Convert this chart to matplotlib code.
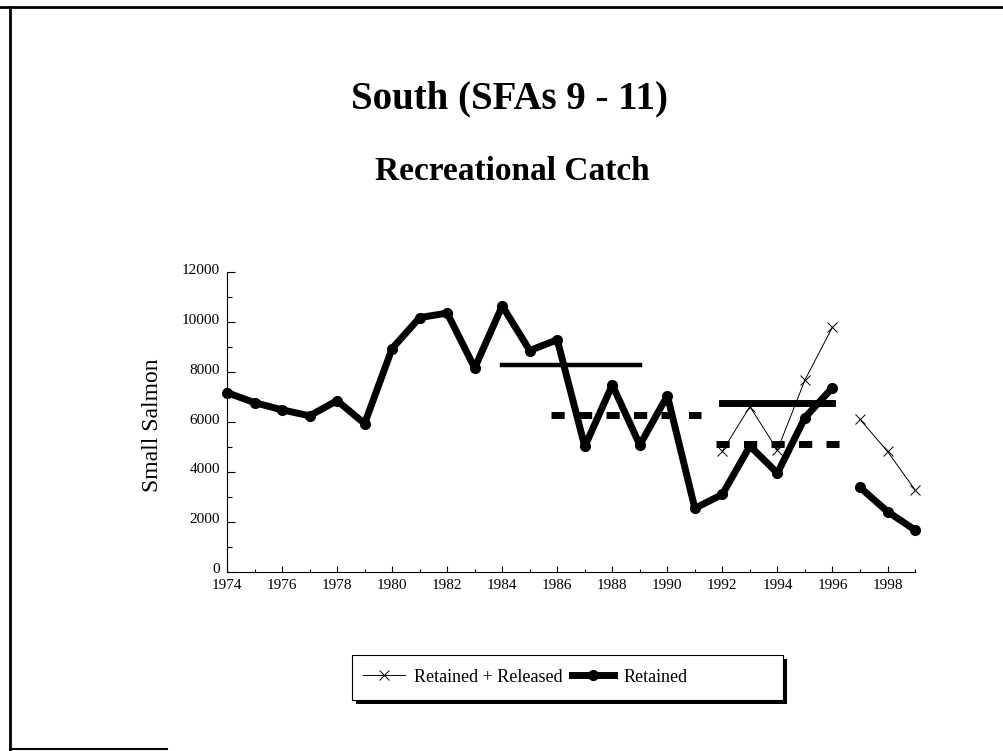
import matplotlib
matplotlib.use('Agg')
import matplotlib.pyplot as plt
from matplotlib.ticker import MultipleLocator
from matplotlib.lines import Line2D
from matplotlib.patches import Rectangle
from matplotlib.transforms import ScaledTranslation

plt.rcParams['font.family'] = ['Liberation Serif', 'DejaVu Serif']
plt.rcParams['lines.scale_dashes'] = False

# Retained (two pieces, gap between 1996 and 1997)
ret_years_a = [1974, 1975, 1976, 1977, 1978, 1979, 1980, 1981, 1982, 1983, 1984, 1985,
               1986, 1987, 1988, 1989, 1990, 1991, 1992, 1993, 1994, 1995, 1996]
ret_vals_a = [7180, 6780, 6490, 6250, 6860, 5940, 8950, 10190, 10370, 8170, 10660, 8870,
              9300, 5020, 7490, 5080, 7060, 2540, 3100, 5040, 3950, 6180, 7380]
ret_years_b = [1997, 1998, 1999]
ret_vals_b = [3380, 2410, 1670]

# Retained + Released
rr_years_a = [1992, 1993, 1994, 1995, 1996]
rr_vals_a = [4840, 6620, 4880, 7690, 9810]
rr_years_b = [1997, 1998, 1999]
rr_vals_b = [6110, 4820, 3280]

# period means
solid_start = [1984, 1992]
solid_end = [1989, 1996]
solid_val = [8300, 6760]
solid_lw = [3.2, 5.0]
dash_start = [1986, 1992]
dash_end = [1991, 1996]
dash_val = [6290, 5120]

fig = plt.figure(figsize=(10.04, 7.51), dpi=100)
ax = fig.add_axes([0.2261, 0.2388, 0.6853, 0.3984])

for s, e, v, w in zip(solid_start, solid_end, solid_val, solid_lw):
    ax.plot([s, e], [v, v], color='black', lw=w, solid_capstyle='projecting', zorder=2)
pad = 0.24
for s, e, v in zip(dash_start, dash_end, dash_val):
    ax.plot([s - pad, e + pad], [v, v], color='black', lw=5, dashes=(9.5, 10.3),
            dash_capstyle='butt', zorder=2)

rr_line, = ax.plot(rr_years_a, rr_vals_a, color='black', lw=0.7, marker='x', ms=7, mew=0.7,
                   clip_on=False, zorder=3)
ax.plot(rr_years_b, rr_vals_b, color='black', lw=0.7, marker='x', ms=7, mew=0.7,
        clip_on=False, zorder=3)
ret_line, = ax.plot(ret_years_a, ret_vals_a, color='black', lw=5, marker='o', ms=7,
                    solid_joinstyle='round', clip_on=False, zorder=4)
ax.plot(ret_years_b, ret_vals_b, color='black', lw=5, marker='o', ms=7,
        solid_joinstyle='round', clip_on=False, zorder=4)

ax.set_xlim(1974, 1999)
ax.set_ylim(0, 12000)
ax.spines['top'].set_visible(False)
ax.spines['right'].set_visible(False)
for sp in ['left', 'bottom']:
    ax.spines[sp].set_linewidth(0.8)
ax.set_xticks(range(1974, 1999, 2))
ax.xaxis.set_minor_locator(MultipleLocator(1))
ax.yaxis.set_major_locator(MultipleLocator(2000))
ax.yaxis.set_minor_locator(MultipleLocator(1000))
ax.tick_params(axis='x', which='major', direction='in', length=4, width=0.8, pad=5, labelsize=11)
ax.tick_params(axis='x', which='minor', direction='in', length=2.5, width=0.8)
ax.tick_params(axis='y', which='major', direction='in', length=6, width=0.8, pad=5, labelsize=11)
ax.tick_params(axis='y', which='minor', direction='in', length=3.5, width=0.8)
# y labels sit a touch above their ticks
lift = ScaledTranslation(0, 2.5 / 72, fig.dpi_scale_trans)
for lbl in ax.get_yticklabels():
    lbl.set_transform(lbl.get_transform() + lift)

fig.text(0.152, 0.434, 'Small Salmon', rotation=90, ha='center', va='center', fontsize=17)
fig.text(0.507, 0.855, 'South (SFAs 9 - 11)', ha='center', va='baseline', fontsize=28,
         fontweight='bold')
fig.text(0.51, 0.760, 'Recreational Catch', ha='center', va='baseline', fontsize=24,
         fontweight='bold')

# legend box with shadow (behind the axes layer)
shadow = Rectangle((356 / 1004, 1 - 704 / 751), 431 / 1004, 45 / 751,
                   transform=fig.transFigure, facecolor='black', edgecolor='none', zorder=-2)
box = Rectangle((352 / 1004, 1 - 700 / 751), 431 / 1004, 45 / 751,
                transform=fig.transFigure, facecolor='white', edgecolor='black', lw=0.8,
                zorder=-1)
fig.add_artist(shadow)
fig.add_artist(box)
leg = ax.legend([rr_line, ret_line], ['Retained + Released', 'Retained'], ncol=2,
                frameon=False, loc='center left', bbox_to_anchor=(0.3526, 0.0985),
                bbox_transform=fig.transFigure, borderpad=0, handlelength=2.3,
                handletextpad=0.55, columnspacing=0.5, prop={'size': 13})

# page border
fig.add_artist(Line2D([0, 1], [0.9913, 0.9913], color='black', lw=2))
fig.add_artist(Line2D([0.00996, 0.00996], [0.001, 0.9913], color='black', lw=2))
fig.add_artist(Line2D([0.00996, 0.166], [0.002, 0.002], color='black', lw=1.5))

fig.savefig('out.png', dpi=100)
